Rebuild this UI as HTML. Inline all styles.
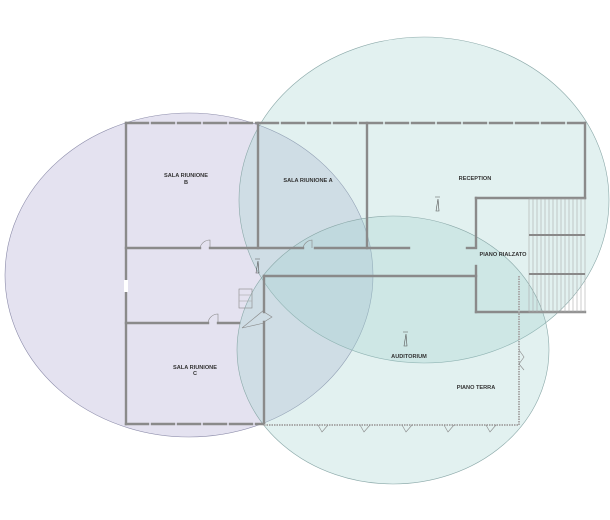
<!DOCTYPE html>
<html><head><meta charset="utf-8"><style>
html,body{margin:0;padding:0;background:#fff;}
svg{display:block;}
text{font-family:"Liberation Sans",sans-serif;font-weight:bold;font-size:5.6px;fill:#333;text-anchor:middle;}
</style></head><body>
<svg width="610" height="520" viewBox="0 0 610 520" xmlns="http://www.w3.org/2000/svg">
<ellipse cx="189" cy="275" rx="184" ry="162" fill="#9c93c8" fill-opacity="0.27" stroke="#8a8aa8" stroke-width="0.6"/>
<ellipse cx="424" cy="200" rx="185" ry="163" fill="#9fcfcc" fill-opacity="0.3" stroke="#8aa8a8" stroke-width="0.6"/>
<ellipse cx="393" cy="350" rx="156" ry="134" fill="#9fcfcc" fill-opacity="0.3" stroke="#8aa8a8" stroke-width="0.6"/>

<g stroke="#8a8a8a" stroke-width="2.4" fill="none" stroke-linecap="square">
<line x1="126" y1="123" x2="585" y2="123" stroke-dasharray="22,4"/>
<line x1="126" y1="123" x2="126" y2="424"/>
<line x1="258" y1="123" x2="258" y2="248"/>
<line x1="367" y1="123" x2="367" y2="248"/>
<line x1="126" y1="248" x2="200" y2="248"/>
<line x1="210" y1="248" x2="303" y2="248"/>
<line x1="315" y1="248" x2="409" y2="248"/>
<line x1="467" y1="248" x2="476" y2="248"/>
<line x1="585" y1="123" x2="585" y2="198"/>
<line x1="476" y1="198" x2="585" y2="198"/>
<line x1="476" y1="198" x2="476" y2="246"/>
<line x1="476" y1="266" x2="476" y2="312"/>
<line x1="476" y1="312" x2="585" y2="312"/>
<line x1="264" y1="276" x2="476" y2="276"/>
<line x1="264" y1="276" x2="264" y2="312"/>
<line x1="264" y1="322" x2="264" y2="424"/>
<line x1="126" y1="323" x2="208" y2="323"/>
<line x1="218" y1="323" x2="239" y2="323"/>
<line x1="126" y1="424" x2="264" y2="424" stroke-dasharray="22,4"/>
</g>
<rect x="124" y="280" width="4" height="12" fill="#fff"/>
<g stroke="#aaa" stroke-width="2" stroke-dasharray="1.5,1">
<line x1="264" y1="425" x2="519" y2="425"/>
<line x1="519" y1="276" x2="519" y2="425"/>
</g>
<g stroke="#aaa" stroke-width="0.6">
<rect x="529" y="199" width="56" height="113" fill="none"/>
<line x1="533" y1="199" x2="533" y2="312"/><line x1="537" y1="199" x2="537" y2="312"/>
<line x1="541" y1="199" x2="541" y2="312"/><line x1="545" y1="199" x2="545" y2="312"/>
<line x1="549" y1="199" x2="549" y2="312"/><line x1="553" y1="199" x2="553" y2="312"/>
<line x1="557" y1="199" x2="557" y2="312"/><line x1="561" y1="199" x2="561" y2="312"/>
<line x1="565" y1="199" x2="565" y2="312"/><line x1="569" y1="199" x2="569" y2="312"/>
<line x1="573" y1="199" x2="573" y2="312"/><line x1="577" y1="199" x2="577" y2="312"/>
<line x1="581" y1="199" x2="581" y2="312"/>
<rect x="239" y="289" width="13" height="19" fill="none" stroke="#888"/>
<line x1="239" y1="295" x2="252" y2="295"/><line x1="239" y1="301" x2="252" y2="301"/>
</g>
<g stroke="#8a8a8a" stroke-width="2"><line x1="529" y1="235" x2="585" y2="235"/><line x1="529" y1="274" x2="585" y2="274"/></g>
<g stroke="#888" stroke-width="0.6" fill="none">
<path d="M200 248 A10 10 0 0 1 210 240 L210 248"/>
<path d="M303 248 A10 10 0 0 1 312 240 L312 248"/>
<path d="M208 323 A10 10 0 0 1 218 314 L218 323"/>
<path d="M264 312 L272 317 L264 322"/>
<path d="M519 350 L524 357 L519 364 L524 370"/>
<path d="M318 425 L322 432 L328 425 M360 425 L364 432 L370 425 M402 425 L406 432 L412 425 M444 425 L448 432 L454 425 M486 425 L490 432 L496 425"/>
<path d="M242 328 L264 310 M242 328 L264 323"/>
</g>
<g stroke="#555" stroke-width="0.6" fill="none">
<path d="M256 273 L258 261 L259 273 Z M255 259 h5"/>
<path d="M436 211 L438 199 L439 211 Z M435 197 h5"/>
<path d="M404 346 L406 334 L407 346 Z M403 332 h5"/>
</g>
<text x="186" y="177">SALA RIUNIONE</text>
<text x="186" y="184">B</text>
<text x="308" y="182">SALA RIUNIONE A</text>
<text x="475" y="180">RECEPTION</text>
<text x="503" y="256">PIANO RIALZATO</text>
<text x="409" y="358">AUDITORIUM</text>
<text x="476" y="389">PIANO TERRA</text>
<text x="195" y="369">SALA RIUNIONE</text>
<text x="195" y="375">C</text>
</svg>
</body></html>
